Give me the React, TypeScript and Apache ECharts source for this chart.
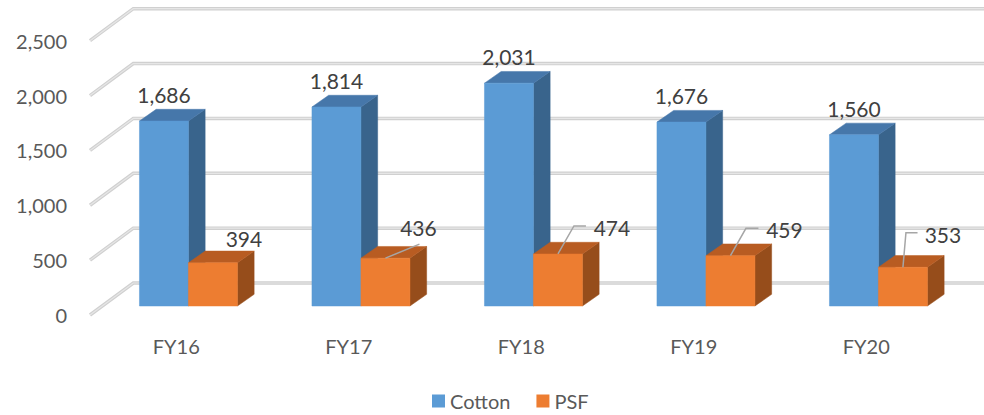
import React, { useEffect, useRef } from "react";
import * as echarts from "echarts";

// ---- data ----
const categories = ["FY16", "FY17", "FY18", "FY19", "FY20"];
const cottonValues = [1686, 1814, 2031, 1676, 1560];
const psfValues = [394, 436, 474, 459, 353];
const yTickValues = [0, 500, 1000, 1500, 2000, 2500];

// ---- layout / style constants ----
const FONT = "Lato, 'Open Sans', sans-serif";
const WALL = [43.3, -32];
const BAR_FRONT = [12.2, -9];
const BAR_DEPTH = [16.7, -11.7];
const BAR_RATIO = 0.284;
const COTTON_COLORS = { front: "#5B9BD5", top: "#4677AA", side: "#39648C" };
const PSF_COLORS = { front: "#ED7D31", top: "#B85C22", side: "#964D1B" };
const COTTON_LABEL_DY = -26.5;
const psfLabelLayout: { dx: number; dy: number; leader: number[][] | null }[] = [
  { dx: 31, dy: -24, leader: null },
  { dx: 33, dy: -31, leader: [[34, -14]] },
  { dx: 54, dy: -26, leader: [[16, -28], [28, -28]] },
  { dx: 54, dy: -26, leader: [[15.5, -27.3], [28, -27.3]] },
  { dx: 40, dy: -33, leader: [[3, -34.6], [14.6, -34.6]] },
];

const fmt = (v: number) => v.toLocaleString("en-US");

function barRenderer(side: 0 | 1, colors: { front: string; top: string; side: string }) {
  return (params: any, api: any) => {
    const ci = api.value(0);
    const v = api.value(1);
    const top = api.coord([ci, v]);
    const base = api.coord([ci, 0]);
    const band = api.size([1, 0])[0];
    const bw = band * BAR_RATIO;
    const cx = top[0] + BAR_FRONT[0];
    const x0 = side === 0 ? cx - bw : cx;
    const x1 = x0 + bw;
    const yT = top[1] + BAR_FRONT[1];
    const yB = base[1] + BAR_FRONT[1];
    const [ddx, ddy] = BAR_DEPTH;
    const children: any[] = [
      {
        type: "polygon",
        shape: { points: [[x1, yT], [x1 + ddx, yT + ddy], [x1 + ddx, yB + ddy], [x1, yB]] },
        style: { fill: colors.side, stroke: colors.side, lineWidth: 0.5 },
      },
      {
        type: "polygon",
        shape: { points: [[x0, yT], [x0 + ddx, yT + ddy], [x1 + ddx, yT + ddy], [x1, yT]] },
        style: { fill: colors.top, stroke: colors.top, lineWidth: 0.5 },
      },
      {
        type: "polygon",
        shape: { points: [[x0, yT], [x1, yT], [x1, yB], [x0, yB]] },
        style: { fill: colors.front, stroke: colors.front, lineWidth: 0.5 },
      },
    ];
    const ax = x0 + bw / 2;
    const ay = yT;
    if (side === 0) {
      children.push({
        type: "text",
        style: {
          text: fmt(v),
          x: ax,
          y: ay + COTTON_LABEL_DY,
          align: "center",
          verticalAlign: "middle",
          fill: "#404040",
          fontSize: 21,
          fontFamily: FONT,
        },
      });
    } else {
      const lay = psfLabelLayout[ci];
      if (lay.leader) {
        const pts = [[ax, ay], ...lay.leader.map((p) => [ax + p[0], ay + p[1]])];
        children.push({
          type: "polyline",
          shape: { points: pts },
          style: { stroke: "#A6A6A6", lineWidth: 1.5, fill: "none" },
        });
      }
      children.push({
        type: "text",
        style: {
          text: fmt(v),
          x: ax + lay.dx,
          y: ay + lay.dy,
          align: "center",
          verticalAlign: "middle",
          fill: "#404040",
          fontSize: 21,
          fontFamily: FONT,
        },
      });
    }
    return { type: "group", children };
  };
}

function gridRenderer(params: any, api: any) {
  const v = api.value(1);
  const p = api.coord([0, v]);
  const cs = params.coordSys;
  const x0 = cs.x;
  const y = p[1];
  const pts = [
    [x0, y],
    [x0 + WALL[0], y + WALL[1]],
    [x0 + cs.width + WALL[0] + 30, y + WALL[1]],
  ];
  return {
    type: "group",
    children: [
      { type: "polyline", shape: { points: pts }, style: { stroke: "#D0D0D0", lineWidth: 3.5, fill: "none" } },
      { type: "polyline", shape: { points: pts }, style: { stroke: "#E6E6E6", lineWidth: 1.2, fill: "none" } },
    ],
  };
}

export default function App() {
  const ref = useRef<HTMLDivElement>(null);
  useEffect(() => {
    if (!ref.current) return;
    const chart = echarts.init(ref.current, undefined, { renderer: "svg" });
    chart.setOption({
      animation: false,
      backgroundColor: "#FFFFFF",
      textStyle: { fontFamily: FONT },
      grid: { left: 90, right: 31.5, top: 40.7, bottom: 100, containLabel: false },
      legend: {
        data: ["Cotton", "PSF"],
        left: 427,
        top: 386,
        padding: 5,
        icon: "rect",
        itemWidth: 13,
        itemHeight: 13,
        itemGap: 26,
        textStyle: { color: "#595959", fontSize: 20, lineHeight: 19, fontFamily: FONT },
      },
      xAxis: {
        type: "category",
        data: categories,
        axisLine: { show: false },
        axisTick: { show: false },
        splitLine: { show: false },
        axisLabel: { color: "#595959", fontSize: 20, lineHeight: 20, margin: 21, fontFamily: FONT },
      },
      yAxis: {
        type: "value",
        min: 0,
        max: 2500,
        interval: 500,
        axisLine: { show: false },
        axisTick: { show: false },
        splitLine: { show: false },
        axisLabel: {
          color: "#595959",
          fontSize: 20,
          margin: 23,
          fontFamily: FONT,
          formatter: (v: number) => fmt(v),
        },
      },
      series: [
        {
          name: "grid",
          type: "custom",
          renderItem: gridRenderer,
          data: yTickValues.map((v) => [0, v]),
          encode: { x: 0, y: 1 },
          clip: false,
          silent: true,
          z: 1,
        },
        {
          name: "Cotton",
          type: "custom",
          renderItem: barRenderer(0, COTTON_COLORS),
          data: cottonValues.map((v, i) => [i, v]),
          encode: { x: 0, y: 1 },
          itemStyle: { color: COTTON_COLORS.front },
          clip: false,
          z: 2,
        },
        {
          name: "PSF",
          type: "custom",
          renderItem: barRenderer(1, PSF_COLORS),
          data: psfValues.map((v, i) => [i, v]),
          encode: { x: 0, y: 1 },
          itemStyle: { color: PSF_COLORS.front },
          clip: false,
          z: 3,
        },
      ],
    });
    return () => chart.dispose();
  }, []);
  return (
    <div
      ref={ref}
      style={{ position: "absolute", left: 0, top: 0, width: 984, height: 415 }}
    />
  );
}
